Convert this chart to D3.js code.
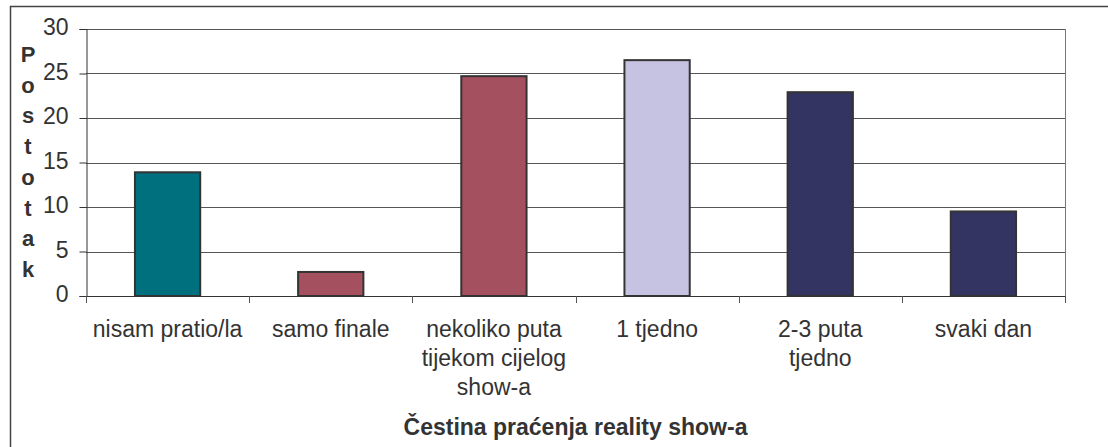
<!DOCTYPE html>
<html>
<head>
<meta charset="utf-8">
<script src="https://cdn.jsdelivr.net/npm/d3@7"></script>
<style>
  body { margin: 0; background: #fff; }
  svg text { font-family: "Liberation Sans", Arial, sans-serif; fill: #333; }
</style>
</head>
<body>
<div id="chart"></div>
<script>
const width = 1108;
const height = 447;

// data
const categories = ["nisam pratio/la", "samo finale", "nekoliko puta tijekom cijelog show-a", "1 tjedno", "2-3 puta tjedno", "svaki dan"];
const labelLines = [["nisam pratio/la"], ["samo finale"], ["nekoliko puta", "tijekom cijelog", "show-a"], ["1 tjedno"], ["2-3 puta", "tjedno"], ["svaki dan"]];
const values = [13.9, 2.7, 24.7, 26.5, 22.9, 9.5];
const barColors = ["#00707e", "#a4505f", "#a4505f", "#c6c3e2", "#333462", "#333462"];
const yTicks = [0, 5, 10, 15, 20, 25, 30];
const yTitle = "Postotak";
const xTitle = "Čestina praćenja reality show-a";

const plot = { left: 86, right: 1065, top: 29, bottom: 296 };
const fontSize = 23;

const svg = d3.select("#chart")
    .append("svg")
    .attr("width", width)
    .attr("height", height);

// outer chart frame (runs off the right and bottom of the picture)
svg.append("rect")
    .attr("x", 10.5)
    .attr("y", 6.5)
    .attr("width", 1120)
    .attr("height", 460)
    .attr("fill", "none")
    .attr("stroke", "#444")
    .attr("stroke-width", 1.5);

const x = d3.scaleBand()
    .domain(categories)
    .range([plot.left, plot.right])
    .paddingInner(0.6)
    .paddingOuter(0.3);

const y = d3.scaleLinear()
    .domain([0, 30])
    .range([plot.bottom, plot.top]);

// gridlines
svg.append("g")
    .selectAll("line")
    .data(yTicks.filter(d => d > 0))
    .join("line")
    .attr("x1", plot.left)
    .attr("x2", plot.right)
    .attr("y1", d => Math.round(y(d)) + 0.5)
    .attr("y2", d => Math.round(y(d)) + 0.5)
    .attr("stroke", "#555");

// right side of plot area
svg.append("line")
    .attr("x1", plot.right + 0.5)
    .attr("x2", plot.right + 0.5)
    .attr("y1", plot.top)
    .attr("y2", plot.bottom + 7)
    .attr("stroke", "#777");

// bars
svg.append("g")
    .selectAll("rect")
    .data(values)
    .join("rect")
    .attr("x", (d, i) => x(categories[i]))
    .attr("y", d => y(d))
    .attr("width", x.bandwidth())
    .attr("height", d => y(0) - y(d))
    .attr("fill", (d, i) => barColors[i])
    .attr("stroke", "#333")
    .attr("stroke-width", 2);

// y axis
const yAxis = svg.append("g")
    .attr("transform", `translate(${plot.left + 0.5},0)`)
    .call(d3.axisLeft(y).tickValues(yTicks).tickSize(7).tickPadding(11));
yAxis.select(".domain").attr("stroke", "#333");
yAxis.selectAll(".tick line").attr("stroke", "#333");
yAxis.selectAll(".tick text")
    .attr("dy", "0.25em")
    .attr("font-size", fontSize)
    .attr("fill", "#333")
    .style("font-family", "'Liberation Sans', Arial, sans-serif");

// x axis line and ticks between categories
const boundaries = d3.range(categories.length + 1).map(i => plot.left + i * (plot.right - plot.left) / categories.length);
svg.append("line")
    .attr("x1", plot.left)
    .attr("x2", plot.right)
    .attr("y1", plot.bottom + 0.5)
    .attr("y2", plot.bottom + 0.5)
    .attr("stroke", "#333");
svg.append("g")
    .selectAll("line")
    .data(boundaries)
    .join("line")
    .attr("x1", d => Math.round(d) + 0.5)
    .attr("x2", d => Math.round(d) + 0.5)
    .attr("y1", plot.bottom)
    .attr("y2", plot.bottom + 7)
    .attr("stroke", "#555");

// category labels
const lab = svg.append("g")
    .selectAll("text")
    .data(categories)
    .join("text")
    .attr("transform", d => `translate(${x(d) + x.bandwidth() / 2},337)`)
    .attr("text-anchor", "middle")
    .attr("font-size", fontSize);
lab.selectAll("tspan")
    .data((d, i) => labelLines[i])
    .join("tspan")
    .attr("x", 0)
    .attr("dy", (d, i) => i === 0 ? 0 : 29)
    .text(d => d);

// x title
svg.append("text")
    .attr("x", (plot.left + plot.right) / 2)
    .attr("y", 435)
    .attr("text-anchor", "middle")
    .attr("font-size", fontSize)
    .attr("font-weight", "bold")
    .text(xTitle);

// y title, letters stacked vertically
svg.append("g")
    .selectAll("text")
    .data(yTitle.split(""))
    .join("text")
    .attr("x", 28)
    .attr("y", (d, i) => 62 + i * 30.7)
    .attr("text-anchor", "middle")
    .attr("font-size", 22)
    .attr("font-weight", "bold")
    .text(d => d);
</script>
</body>
</html>
